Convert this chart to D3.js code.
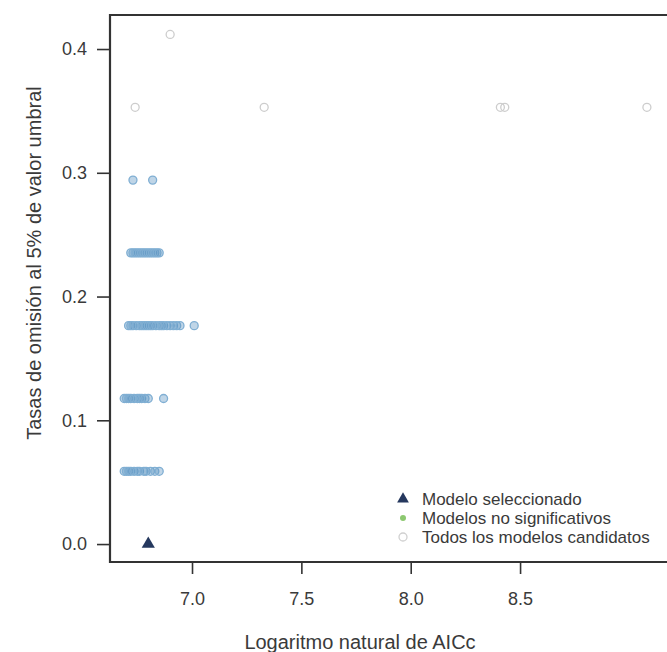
<!DOCTYPE html>
<html>
<head>
<meta charset="utf-8">
<script src="https://cdn.jsdelivr.net/npm/d3@7/dist/d3.min.js"></script>
<style>
  body { margin: 0; background: #fff; }
  svg { display: block; font-family: "Liberation Sans", Arial, sans-serif; }
</style>
</head>
<body>
<svg id="chart" width="667" height="652"></svg>
<script>
// omission rate levels (1/17 steps) and AICc values per level
const candGrey = [
    { aicc: 6.90, rate: 0.4118 },
    { aicc: 6.74, rate: 0.3529 },
    { aicc: 7.33, rate: 0.3529 },
    { aicc: 8.41, rate: 0.3529 },
    { aicc: 8.43, rate: 0.3529 },
    { aicc: 9.08, rate: 0.3529 }
];
const row2941 = [6.73, 6.82];
const row2353 = [6.72, 6.73, 6.74, 6.75, 6.76, 6.77, 6.78, 6.79, 6.80, 6.81, 6.82, 6.83, 6.84, 6.85];
const row1765 = [6.71, 6.72, 6.73, 6.745, 6.76, 6.77, 6.78, 6.79, 6.80, 6.81, 6.82, 6.835, 6.85, 6.86, 6.87, 6.885, 6.90, 6.915, 6.93, 6.945, 7.01];
const row1176 = [6.69, 6.70, 6.71, 6.72, 6.735, 6.75, 6.76, 6.77, 6.785, 6.80, 6.87];
const row0588 = [6.69, 6.70, 6.71, 6.72, 6.735, 6.75, 6.76, 6.78, 6.79, 6.81, 6.83, 6.85];
const selected = [{ aicc: 6.80, rate: 0.0 }];

const xTicks = [7.0, 7.5, 8.0, 8.5];
const yTicks = [0.0, 0.1, 0.2, 0.3, 0.4];
const legendLabels = ["Modelo seleccionado", "Modelos no significativos", "Todos los modelos candidatos"];

const blueRows = [
    { rate: 0.2941, vals: row2941 },
    { rate: 0.2353, vals: row2353 },
    { rate: 0.1765, vals: row1765 },
    { rate: 0.1176, vals: row1176 },
    { rate: 0.0588, vals: row0588 }
];

const svg = d3.select("#chart");
const margin = { left: 110, top: 15, bottom: 562 };

const x = d3.scaleLinear().domain([6.625, 9.2]).range([margin.left, margin.left + 2.575 * 218.7]);
const y = d3.scaleLinear().domain([-0.0145, 0.4275]).range([margin.bottom, margin.top]);

const axisColor = "#333";
const textColor = "#3a3a3a";

// clip for the plot area (right side runs off the image)
svg.append("clipPath").attr("id", "plotClip")
    .append("rect")
    .attr("x", margin.left).attr("y", margin.top)
    .attr("width", 700).attr("height", margin.bottom - margin.top);

const plot = svg.append("g").attr("clip-path", "url(#plotClip)");

// grey candidates
plot.selectAll(".cand")
    .data(candGrey)
    .enter()
    .append("circle")
    .attr("class", "cand")
    .attr("cx", d => x(d.aicc))
    .attr("cy", d => y(d.rate))
    .attr("r", 4)
    .attr("fill", "none")
    .attr("stroke", "#cdcdcd")
    .attr("stroke-width", 1.3);

// blue candidates
const bluePts = blueRows.flatMap(r => r.vals.map(v => ({ aicc: v, rate: r.rate })));
plot.selectAll(".blue")
    .data(bluePts)
    .enter()
    .append("circle")
    .attr("class", "blue")
    .attr("cx", d => x(d.aicc))
    .attr("cy", d => y(d.rate))
    .attr("r", 4)
    .attr("fill", "rgba(95,150,195,0.4)")
    .attr("stroke", "#80afd3")
    .attr("stroke-width", 1.3);

// selected model
const tri = d3.symbol().type(d3.symbolTriangle).size(75);
plot.selectAll(".sel")
    .data(selected)
    .enter()
    .append("path")
    .attr("class", "sel")
    .attr("d", tri)
    .attr("transform", d => `translate(${x(d.aicc)},${y(d.rate)})`)
    .attr("fill", "#25385e");

// frame: left, top, bottom
svg.append("path")
    .attr("d", `M${margin.left + 700},${margin.top}H${margin.left}V${margin.bottom}H${margin.left + 700}`)
    .attr("fill", "none")
    .attr("stroke", axisColor)
    .attr("stroke-width", 2.2);

// x axis
const xAxis = svg.append("g")
    .attr("transform", `translate(0,${margin.bottom})`)
    .call(d3.axisBottom(x).tickValues(xTicks).tickFormat(d3.format(".1f")).tickSize(12).tickPadding(18));
xAxis.select(".domain").remove();
xAxis.selectAll("line").attr("stroke", axisColor).attr("stroke-width", 1.6);
xAxis.selectAll("text").attr("fill", textColor).style("font-size", "18px");

// y axis
const yAxis = svg.append("g")
    .attr("transform", `translate(${margin.left},0)`)
    .call(d3.axisLeft(y).tickValues(yTicks).tickFormat(d3.format(".1f")).tickSize(13).tickPadding(10));
yAxis.select(".domain").remove();
yAxis.selectAll("line").attr("stroke", axisColor).attr("stroke-width", 1.6);
yAxis.selectAll("text").attr("fill", textColor).style("font-size", "18px");

// axis titles
svg.append("text")
    .attr("x", 360).attr("y", 642)
    .attr("dy", "0.35em")
    .attr("text-anchor", "middle")
    .attr("fill", textColor)
    .style("font-size", "20px")
    .text("Logaritmo natural de AICc");

svg.append("text")
    .attr("transform", "translate(34,263) rotate(-90)")
    .attr("dy", "0.35em")
    .attr("text-anchor", "middle")
    .attr("fill", textColor)
    .style("font-size", "20px")
    .text("Tasas de omisión al 5% de valor umbral");

// legend
const leg = svg.append("g").attr("transform", "translate(403,499)");
const rows = leg.selectAll("g")
    .data(legendLabels)
    .enter()
    .append("g")
    .attr("transform", (d, i) => `translate(0,${i * 19})`);
rows.each(function (d, i) {
    const g = d3.select(this);
    if (i === 0) {
        g.append("path").attr("d", d3.symbol().type(d3.symbolTriangle).size(60)).attr("fill", "#25385e");
    } else if (i === 1) {
        g.append("circle").attr("r", 3).attr("fill", "#8cc870");
    } else {
        g.append("circle").attr("r", 4).attr("fill", "none").attr("stroke", "#d0d0d0").attr("stroke-width", 1.3);
    }
});
rows.append("text")
    .attr("x", 19).attr("dy", "0.35em")
    .attr("fill", textColor)
    .style("font-size", "17px")
    .text(d => d);
</script>
</body>
</html>
